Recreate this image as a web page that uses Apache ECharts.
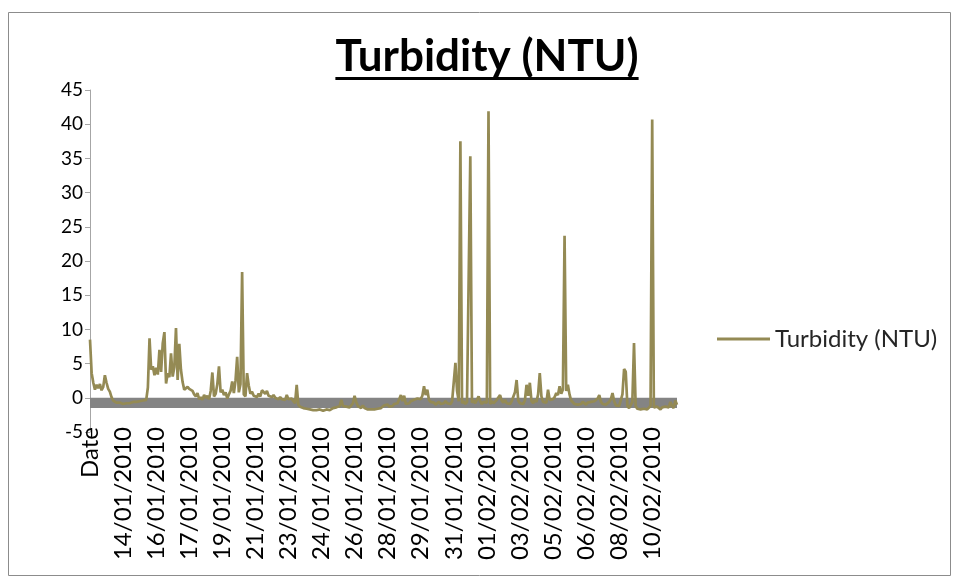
<!DOCTYPE html>
<html>
<head>
<meta charset="utf-8">
<script src="https://cdn.jsdelivr.net/npm/echarts@6/dist/echarts.min.js"></script>
<style>
html,body{margin:0;padding:0;background:#fff;}
#chart{width:958px;height:578px;}
</style>
</head>
<body>
<div id="chart"></div>
<script>
// ---- data ----
var seriesName = 'Turbidity (NTU)';
var tickLabels = ['Date','14/01/2010','16/01/2010','17/01/2010','19/01/2010','21/01/2010','23/01/2010','24/01/2010','26/01/2010','28/01/2010','29/01/2010','31/01/2010','01/02/2010','03/02/2010','05/02/2010','06/02/2010','08/02/2010','10/02/2010'];
var labelEvery = 20;
var turbidity = [
 8.5, 3.6, 2.2, 1.2, 1.9, 1.4, 2.0, 1.1, 1.6, 3.3, 2.2, 1.3, 0.9, 0.1, -0.4,
 -0.6, -0.7, -0.8, -0.7, -0.8, -0.9, -0.8, -0.8, -0.7, -0.8, -0.7, -0.6, -0.7, -0.6, -0.6, -0.5, -0.6, -0.4, -0.5, -0.3,
 1.5, 8.7, 4.1, 4.6, 3.3, 4.4, 3.4, 7.0, 3.8, 8.0, 9.6, 2.1, 3.6, 3.0, 6.5, 3.1, 4.5, 10.2, 2.6, 7.9, 4.1, 2.3, 1.2, 1.4, 1.6, 1.3, 1.5, 1.0, 0.5, 0.2, 0.7, -0.2, 0.1, -0.3, 0.4, 0.0,
 0.3, -0.2, 1.0, 3.7, 0.2, 0.6, 2.0, 4.6, 0.8, 1.2, 0.4, 0.8, -0.1, 0.5, 1.0, 2.4, 0.7, 2.5, 6.0, 0.8, 2.0, 18.4, 0.5, 0.2, 3.6, 1.8, 0.6, 0.9, 0.3, 0.5, 0.1, 0.6, 0.2, 1.1, 1.2, 0.6, 1.0, 0.3, 0.5, 0.1, 0.4, 0.0, 0.2, -0.2, 0.1, -0.2, 0.0, -0.3, 0.4, -0.2, -0.4, -0.1, -0.5, -0.8, 1.9, -1.0, -1.3, -1.2,
 -1.5, -1.4, -1.6, -1.5, -1.7, -1.6, -1.8, -1.7, -1.8, -1.9, -1.7, -1.8, -1.9, -1.8, -1.7, -1.9, -1.8, -1.7, -1.5, -1.6, -1.4, -1.5, -1.2, -0.3, -1.2, -1.4, -1.3, -1.5, -1.4, -1.3, -0.8, 0.3, -0.6, -1.2, -1.4, -1.5, -1.1, -1.5, -1.6, -1.7, -1.6, -1.7, -1.6, -1.7, -1.5, -1.6, -1.4, -1.5, -1.3, -1.1, -1.2, -1.0, -1.3, -1.1, -1.2, -0.9, -1.1, -0.8,
 -0.2, 0.4, -0.5, 0.3, -0.9, -0.7, -0.8, -0.5, -0.6, -0.3, -0.4, -0.1, 0.0, -0.2, 0.3, 1.7, 0.4, 1.2, -0.3, -0.6, -0.8, -0.7, -1.0, -0.8, -0.6, -0.9, -0.7, -0.8, -0.5, -0.8, -0.6, -0.9, -0.5, -0.3,
 5.1, 1.0, -0.5, 37.5, -0.8, -0.5, -0.9, -0.6, -0.8, 35.3, -0.7, -0.4, -0.8, -0.6, 0.2, -0.5, -0.9, -0.6, -0.8, -0.7, 41.9, -0.9, -0.5, -0.8, -0.6, -0.3, -0.5, 0.4, -0.4, -0.7, -0.3, -0.8, -0.6, -0.9, -0.5, -0.7, 0.8, 2.6, -0.4, -0.8, -0.6, -0.9, -0.4, 1.9, 0.3, 2.2, -0.5, -0.8, -0.3, -0.6, 0.5, 3.6, 0.2, -0.6, -0.4, -0.7, 1.2, -0.3, -0.5, -0.2, 0.1, 0.7, 0.4, 1.7, 0.6, 1.2, 23.7, 1.0, 1.9, 0.5,
 -0.4, -0.6, -0.9, -0.7, -1.0, -0.8, -0.9, -0.6, -0.8, -1.0, -0.7, -0.9, -0.6, -0.8, -0.5, -0.7, -0.1, 0.4, -0.6, -0.9, -0.7, -1.0, -0.8, -0.6, -0.2, 0.7, -0.5, -1.1, -1.3, -1.2, -1.4, 0.5, 4.2, 3.8, -1.2, -1.5, -1.3, -0.6, 8.0, -1.2, -1.6, -1.4, -1.7, -1.5, -1.6, -1.4, -1.7, -1.5, -1.2, 40.7, -1.4, -1.6, -1.3, -1.5, -1.7, -1.4, -1.6, -1.3, -1.5, -1.4, -0.6, -1.2, -1.5, -0.4, -1.0
];
var yMin = -5, yMax = 45, yStep = 5;
var bandTop = 0, bandBottom = -1.5;

// ---- build categories ----
var categories = turbidity.map(function (v, i) {
  return (i % labelEvery === 0 && tickLabels[i / labelEvery] !== undefined) ? tickLabels[i / labelEvery] : ('#' + i);
});

var FONT = 'Lato, "Liberation Sans", sans-serif';
var titleText = 'Turbidity (NTU)';
var titleFontSize = 44;
var titleCenterX = 487;

var mctx = document.createElement('canvas').getContext('2d');
mctx.font = 'bold ' + titleFontSize + 'px Lato';
var titleW = mctx.measureText(titleText).width;

var chart = echarts.init(document.getElementById('chart'));
chart.setOption({
  animation: false,
  backgroundColor: '#ffffff',
  title: {
    text: titleText,
    left: titleCenterX - titleW / 2 - 5,
    top: 30,
    textStyle: { fontFamily: FONT, fontSize: titleFontSize, fontWeight: 'bold', color: '#000' }
  },
  graphic: [
    { type: 'rect', shape: { x: titleCenterX - titleW / 2, y: 77, width: titleW, height: 3 }, style: { fill: '#000' }, silent: true },
    { type: 'rect', shape: { x: 8.5, y: 12.5, width: 942, height: 563 }, style: { fill: 'none', stroke: '#8c8c8c', lineWidth: 1 }, silent: true }
  ],
  legend: {
    data: [seriesName],
    left: 712,
    top: 322,
    icon: 'rect',
    itemWidth: 53,
    itemHeight: 3,
    textStyle: { fontFamily: FONT, fontSize: 24, color: '#262626' }
  },
  grid: { left: 90, right: 281, top: 90, bottom: 146, containLabel: false },
  xAxis: {
    type: 'category',
    data: categories,
    boundaryGap: false,
    axisLine: { show: false },
    axisTick: { show: false },
    axisLabel: {
      rotate: 90,
      margin: -5,
      fontFamily: FONT,
      fontSize: 24,
      color: '#000',
      interval: function (idx) { return idx % labelEvery === 0; }
    },
    splitLine: { show: false }
  },
  yAxis: {
    type: 'value',
    min: yMin, max: yMax, interval: yStep,
    axisLine: { show: true, lineStyle: { color: '#a6a6a6', width: 1 } },
    axisTick: { show: true, length: 5, lineStyle: { color: '#a6a6a6' } },
    axisLabel: { fontFamily: FONT, fontSize: 19, color: '#000', margin: 7 },
    splitLine: { show: false }
  },
  series: [{
    name: seriesName,
    type: 'line',
    data: turbidity,
    symbol: 'none',
    color: '#948a54',
    itemStyle: { color: '#948a54' },
    lineStyle: { color: '#948a54', width: 2.7 },
    z: 3,
    markArea: {
      silent: true,
      itemStyle: { color: '#848484', opacity: 1 },
      data: [[{ yAxis: bandTop }, { yAxis: bandBottom }]]
    }
  }]
});
</script>
</body>
</html>
